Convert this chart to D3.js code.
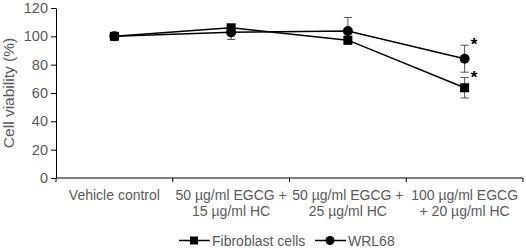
<!DOCTYPE html>
<html>
<head>
<meta charset="utf-8">
<script src="https://cdn.jsdelivr.net/npm/d3@7"></script>
<style>
  body { margin: 0; background: #fff; }
  svg { display: block; font-family: "Liberation Sans", Arial, sans-serif; }
</style>
</head>
<body>
<svg id="chart" width="526" height="248"></svg>
<script>
const categories = [
    ["Vehicle control"],
    ["50 µg/ml EGCG +", "15 µg/ml HC"],
    ["50 µg/ml EGCG +", "25 µg/ml HC"],
    ["100 µg/ml EGCG", "+ 20 µg/ml HC"]
];
const fibroValues = [100, 106, 97.3, 63.7];
const fibroErrors = [0, 2.5, 1.5, 7.2];
const wrlValues = [100, 102.8, 103.8, 84.2];
const wrlErrors = [0, 5, 9.5, 9.5];
const significant = [false, false, false, true];
const yTicks = [0, 20, 40, 60, 80, 100, 120];

const W = 526, H = 248;
const margin = { top: 8, right: 3, bottom: 70, left: 56 };
const iw = W - margin.left - margin.right;
const ih = H - margin.top - margin.bottom;
const textColor = "#595959";

const svg = d3.select("#chart");
const g = svg.append("g").attr("transform", `translate(${margin.left},${margin.top})`);

const x = d3.scaleBand().domain(d3.range(categories.length)).range([0, iw]);
const y = d3.scaleLinear().domain([0, 120]).range([ih, 0]);
const cx = i => x(i) + x.bandwidth() / 2;

// y axis
const yAxis = g.append("g")
    .call(d3.axisLeft(y).tickValues(yTicks).tickSize(5).tickSizeOuter(0));
yAxis.select(".domain").attr("stroke", "#000");
yAxis.selectAll(".tick line").attr("stroke", "#000");
yAxis.selectAll("text").attr("font-size", "14.5px").attr("fill", textColor)
    .attr("font-family", "Liberation Sans, Arial, sans-serif").attr("x", -8);

// x axis with ticks at band edges
g.append("line").attr("x1", 0).attr("x2", iw).attr("y1", ih).attr("y2", ih).attr("stroke", "#000");
d3.range(categories.length + 1).forEach(i => {
    const xx = i < categories.length ? x(i) : iw;
    g.append("line").attr("x1", xx).attr("x2", xx).attr("y1", ih).attr("y2", ih + 4).attr("stroke", "#000");
});
categories.forEach((lines, i) => {
    const t = g.append("text").attr("text-anchor", "middle").attr("font-size", "14px").attr("fill", textColor);
    lines.forEach((ln, j) => {
        t.append("tspan").attr("x", cx(i)).attr("y", ih + 22 + j * 16).text(ln);
    });
});

// y title
svg.append("text")
    .attr("transform", `translate(14,${margin.top + ih / 2}) rotate(-90)`)
    .attr("text-anchor", "middle").attr("font-size", "15.5px").attr("fill", textColor)
    .text("Cell viability (%)");

const line = d3.line().x((d, i) => cx(i)).y(d => y(d));

function errorBars(vals, errs) {
    vals.forEach((v, i) => {
        if (!errs[i]) return;
        const xx = cx(i);
        g.append("line").attr("x1", xx).attr("x2", xx).attr("y1", y(v - errs[i])).attr("y2", y(v + errs[i]))
            .attr("stroke", "#555").attr("stroke-width", 1);
        [v - errs[i], v + errs[i]].forEach(e => {
            g.append("line").attr("x1", xx - 4).attr("x2", xx + 4).attr("y1", y(e)).attr("y2", y(e))
                .attr("stroke", "#555").attr("stroke-width", 1);
        });
    });
}
errorBars(fibroValues, fibroErrors);
errorBars(wrlValues, wrlErrors);

g.append("path").datum(fibroValues).attr("d", line).attr("fill", "none").attr("stroke", "#000").attr("stroke-width", 1.5);
g.append("path").datum(wrlValues).attr("d", line).attr("fill", "none").attr("stroke", "#000").attr("stroke-width", 1.5);

g.selectAll("rect.fib").data(fibroValues).join("rect").attr("class", "fib")
    .attr("x", (d, i) => cx(i) - 4.5).attr("y", d => y(d) - 4.5).attr("width", 9).attr("height", 9).attr("fill", "#000");
g.selectAll("circle.wrl").data(wrlValues).join("circle").attr("class", "wrl")
    .attr("cx", (d, i) => cx(i)).attr("cy", d => y(d)).attr("r", 5).attr("fill", "#000");

// significance stars
significant.forEach((s, i) => {
    if (!s) return;
    [[wrlValues[i], wrlErrors[i]], [fibroValues[i], fibroErrors[i]]].forEach(([v, e]) => {
        g.append("text").attr("x", cx(i) + 6).attr("y", y(v + e) + 5)
            .attr("font-size", "17px").attr("font-weight", "bold").attr("fill", "#000").text("*");
    });
});

// legend
const lg = svg.append("g").attr("transform", "translate(0,240.5)");
const items = [
    { label: "Fibroblast cells", x0: 179, shape: "square" },
    { label: "WRL68", x0: 315, shape: "circle" }
];
items.forEach(it => {
    lg.append("line").attr("x1", it.x0).attr("x2", it.x0 + 31).attr("y1", 0).attr("y2", 0)
        .attr("stroke", "#000").attr("stroke-width", 1.5);
    if (it.shape === "square") {
        lg.append("rect").attr("x", it.x0 + 11).attr("y", -4).attr("width", 8).attr("height", 8).attr("fill", "#000");
    } else {
        lg.append("circle").attr("cx", it.x0 + 15).attr("cy", 0).attr("r", 4.5).attr("fill", "#000");
    }
    lg.append("text").attr("x", it.x0 + 33).attr("y", 5).attr("font-size", "14px").attr("fill", textColor).text(it.label);
});
</script>
</body>
</html>
